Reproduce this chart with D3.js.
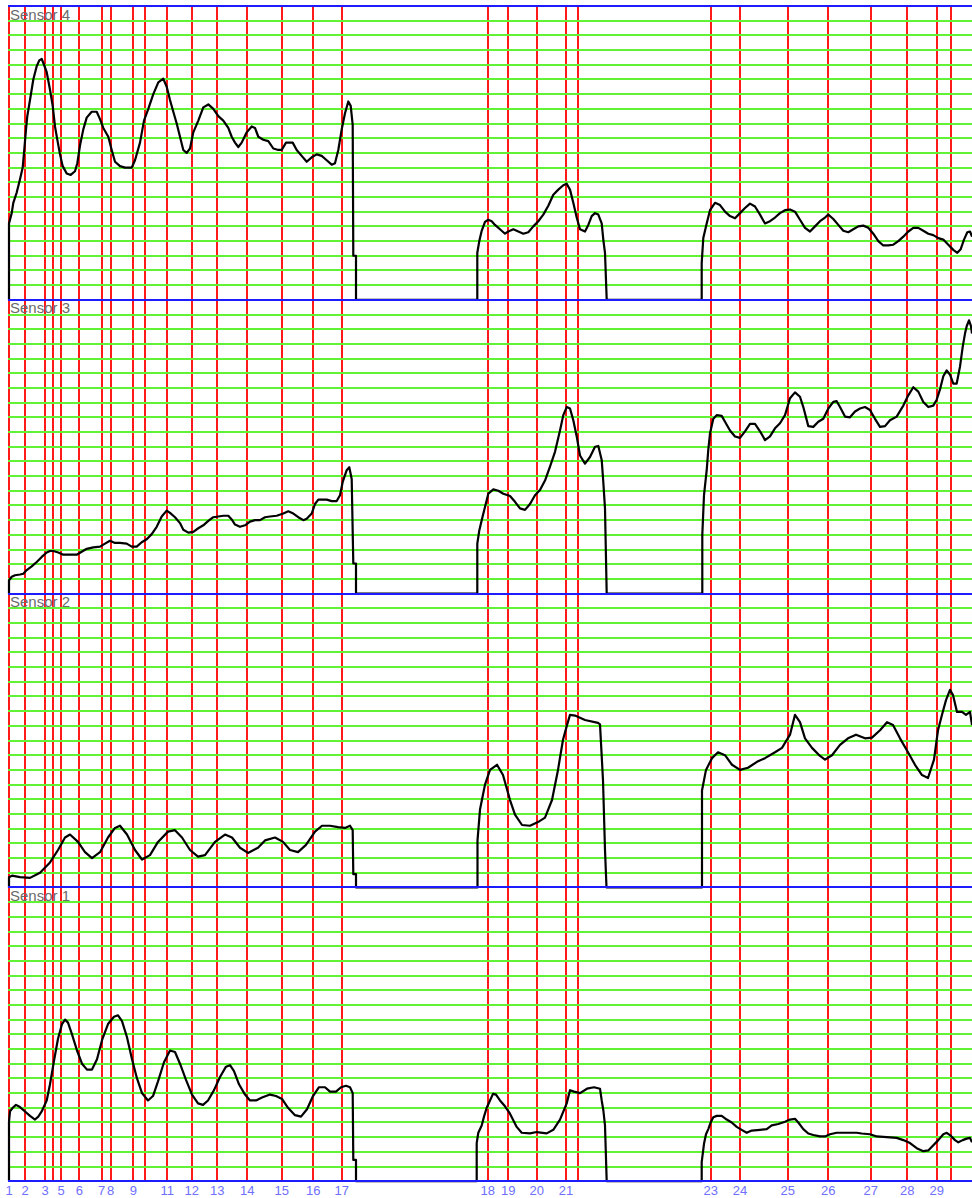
<!DOCTYPE html>
<html>
<head>
<meta charset="utf-8">
<title>Sensor traces</title>
<script src="https://cdn.jsdelivr.net/npm/d3@7"></script>
<style>
  html, body { margin: 0; padding: 0; background: #fff; }
  #chart { width: 972px; height: 1198px; }
  text { font-family: "Liberation Sans", Arial, sans-serif; }
</style>
</head>
<body>
<div id="chart"></div>
<script>
// Four stacked sensor traces, sample axis 0..964, each panel 0..20 grid units.

var SENSORS = ['Sensor 4', 'Sensor 3', 'Sensor 2', 'Sensor 1'];

// event markers (sample position) and their labels; blank = unlabeled
var MARKER_POS = [1, 17, 37, 45.3, 53, 71.3, 93.7, 102.7, 125.3, 137.3, 159.3, 183.7, 209.3, 239.3,
  273.7, 305.3, 333.7, 479.7, 500.3, 528.7, 558, 569.7, 702.7, 732, 779.7, 820.3, 862.7, 899.3,
  928.7, 942.7];
var MARKER_LABELS = ['1', '2', '3', '', '5', '6', '7', '8', '9', '', '11', '12', '13', '14',
  '15', '16', '17', '18', '19', '20', '21', '', '23', '24', '25', '26', '27', '28', '29', ''];

var SAMPLE_MAX = 964;
var LEVEL_MAX = 20;

var SENSOR_4 = [
  [1,0],[1,5.2],[3.7,5.9],[5.3,6.6],[8.7,7.3],[12,8.2],[14.7,9.0],[16,10],[18,11.6],[19.3,12.5],
  [22,13.6],[25.3,15],[28.7,15.9],[31.3,16.3],[33.7,16.4],[36,16],[38.7,15.5],[42,14.3],[44.7,13.2],
  [47,11.8],[49.3,10.9],[52,9.9],[54.7,9.1],[58.7,8.6],[62.7,8.5],[67,8.75],[69.3,9.3],[72,10.5],
  [75.3,11.6],[78.7,12.4],[83.7,12.8],[88.7,12.8],[92,12.3],[95.3,11.7],[100.3,11.1],[103.7,10.2],
  [107,9.4],[112,9.1],[117,9.0],[123.7,9.0],[127,9.5],[132,10.7],[136,12.2],[140.3,13],[145.3,14],
  [150.3,14.8],[155.3,15.05],[158.7,14.5],[162,13.6],[165.3,12.8],[168.7,12],[172,11.1],[175.3,10.2],
  [178.7,10],[182,10.3],[185.3,11.4],[190.3,12.2],[195.3,13.1],[200.3,13.3],[205.3,13],[210.3,12.5],
  [215.3,12.2],[220.3,11.7],[223.7,11.1],[227,10.7],[230.3,10.4],[233.7,10.7],[238.7,11.4],
  [243.7,11.8],[247,11.7],[250.3,11.1],[255.3,10.9],[260.3,10.8],[265.3,10.3],[270.3,10.2],
  [273.7,10.2],[278,10.7],[284.7,10.7],[288.7,10.2],[293.7,9.8],[298.7,9.4],[303.7,9.7],[308.7,9.9],
  [313.7,9.8],[318.7,9.5],[323.7,9.2],[327,9.3],[330.3,10.2],[333.7,11.6],[337,12.7],[340.3,13.5],
  [342.7,13.2],[344.7,11.9],[345.3,3.0],[348,3.0],[348,0],
  [469.3,0],[469.3,3.2],[471.3,4.0],[473.7,4.7],[477,5.3],[480.3,5.45],[483.7,5.35],[487,5.1],
  [492,4.8],[497,4.5],[500.3,4.65],[505.3,4.8],[510.3,4.65],[515.3,4.5],[520.3,4.6],[525.3,5.0],
  [530.3,5.35],[535.3,5.8],[540.3,6.4],[545.3,7.15],[550.3,7.5],[555.3,7.8],[558.7,7.9],[562,7.5],
  [565.3,6.6],[568.7,5.6],[572,4.8],[577,4.65],[580.3,5.1],[583.7,5.7],[587,5.9],[590.3,5.8],
  [593.7,5.2],[595.3,4.1],[597,3.2],[598.7,0],
  [693.7,0],[693.7,2.5],[695.3,4.2],[698.7,5.2],[702,6.1],[707,6.6],[712,6.45],[717,6.0],[722,5.7],
  [727,5.55],[732,5.9],[737,6.25],[742,6.55],[747,6.35],[752,5.8],[757,5.2],[762,5.35],[767,5.6],
  [772,5.9],[777,6.1],[782,6.15],[787,6.0],[792,5.45],[797,4.9],[802,4.65],[807,5.0],[812,5.35],
  [817,5.6],[820.3,5.8],[825.3,5.5],[830.3,5.1],[835.3,4.7],[840.3,4.6],[845.3,4.8],[850.3,5.0],
  [855.3,5.05],[860.3,4.9],[865.3,4.5],[870.3,4.0],[875.3,3.7],[880.3,3.7],[885.3,3.75],[890.3,4.0],
  [895.3,4.3],[900.3,4.65],[905.3,4.9],[910.3,4.9],[915.3,4.7],[920.3,4.5],[925.3,4.4],[930.3,4.2],
  [935.3,4.1],[940.3,3.75],[945.3,3.4],[949.3,3.2],[952.7,3.45],[956,4.1],[959.3,4.6],[962,4.65],
  [964,4.3]
];

var SENSOR_3 = [
  [1,0],[1,0.9],[3.7,1.15],[7,1.25],[12,1.3],[15.3,1.35],[18.7,1.6],[23.7,1.85],[28.7,2.15],
  [33.7,2.5],[38.7,2.8],[42,2.9],[45.3,2.9],[50.3,2.8],[55.3,2.65],[62,2.65],[68.7,2.65],[73.7,2.85],
  [78.7,3.05],[85.3,3.15],[92,3.2],[97,3.4],[102,3.6],[107,3.45],[112,3.45],[118.7,3.4],[123.7,3.2],
  [128.7,3.2],[133.7,3.5],[138.7,3.7],[143.7,4.05],[148.7,4.55],[153.7,5.25],[158.7,5.65],[162,5.5],
  [167,5.2],[172,4.8],[175.3,4.35],[180.3,4.15],[185.3,4.2],[190.3,4.45],[195.3,4.65],[200.3,4.95],
  [205.3,5.2],[210.3,5.25],[215.3,5.3],[220.3,5.3],[223.7,5.05],[227,4.7],[232,4.55],[237,4.65],
  [242,4.9],[247,5.0],[252,5.0],[257,5.2],[262,5.25],[268.7,5.3],[275.3,5.45],[280.3,5.6],
  [285.3,5.45],[290.3,5.2],[295.3,5.0],[298.7,5.1],[303.7,5.45],[307,6.1],[310.3,6.4],[313.7,6.4],
  [318.7,6.4],[323.7,6.3],[328.7,6.3],[332,6.7],[334.7,7.6],[338.7,8.4],[341.3,8.6],[343.7,7.8],
  [345.3,2.05],[348,2.05],[348,0],
  [469.3,0],[469.3,3.4],[471.3,4.3],[473.7,5.0],[477,5.9],[480.3,6.8],[485.3,7.1],[490.3,7.0],
  [495.3,6.8],[502,6.65],[507,6.25],[512,5.8],[517,5.7],[522,6.1],[527,6.7],[532,7.05],[537,7.7],
  [542,8.65],[547,9.65],[552,11.1],[555.3,12.15],[558.7,12.7],[562,12.6],[565.3,11.8],[568.7,10.7],
  [572,9.4],[577,8.85],[582,9.3],[587,10],[590.3,10.05],[593.7,9.1],[595.3,7.6],[597,5.8],[598.7,0],
  [694.3,0],[694.3,4.0],[696,6.7],[698.7,8.4],[700.3,9.8],[702,10.9],[705.3,11.9],[708.7,12.15],
  [713.7,12.1],[717,11.7],[722,11.1],[727,10.7],[732,10.6],[737,11.05],[742,11.55],[747,11.55],
  [752,11.05],[757,10.45],[762,10.7],[767,11.25],[772,11.6],[777,12.15],[782,13.3],[787,13.7],
  [792,13.4],[795.3,12.7],[800.3,11.4],[805.3,11.35],[810.3,11.7],[815.3,11.9],[820.3,12.6],
  [825.3,13.05],[828.7,13.1],[832,12.7],[837,12.05],[842,12.0],[847,12.4],[852,12.6],[857,12.7],
  [862,12.5],[867,11.9],[872,11.35],[877,11.4],[882,11.8],[888.7,12.05],[895.3,12.8],[900.3,13.5],
  [905.3,14.05],[910.3,13.75],[915.3,13.05],[920.3,12.7],[925.3,12.8],[928.7,13.2],[932,13.9],
  [935.3,14.8],[938.7,15.2],[942,14.9],[945.3,14.3],[948.7,14.3],[952,15.45],[954.7,16.8],[957,17.7],
  [958.7,18.2],[961,18.6],[963,18.2],[964,17.7]
];

var SENSOR_2 = [
  [1,0],[1,0.7],[4,0.8],[12,0.7],[22,0.65],[32,1.0],[42,1.7],[50,2.55],[57,3.4],[62,3.6],[70,3.1],
  [77,2.4],[84,2.0],[92,2.4],[100,3.4],[107,4.05],[112,4.2],[119,3.6],[127,2.55],[134,1.9],[142,2.2],
  [150,3.1],[160,3.8],[167,3.9],[174,3.4],[182,2.55],[190,2.1],[197,2.2],[207,3.1],[217,3.6],
  [224,3.4],[232,2.7],[240,2.35],[250,2.7],[257,3.2],[267,3.4],[275,3.1],[282,2.55],[290,2.4],
  [298,2.9],[307,3.8],[314,4.2],[322,4.2],[330,4.1],[337,4.05],[342,4.2],[344.7,3.9],[345.3,0.9],
  [348,0.9],[348,0],
  [469.5,0],[469.5,3.2],[472,5.3],[477,7.0],[482,8.0],[489,8.35],[495,7.65],[502,5.95],[507,4.95],
  [514,4.25],[522,4.2],[530,4.45],[537,4.75],[544,5.95],[550,8.0],[555,10.05],[559,11.05],[562,11.75],
  [567,11.7],[577,11.4],[590,11.2],[592,11.1],[595,7.3],[597,2.55],[598.5,0],
  [694,0],[694,6.6],[698,8.0],[704,8.8],[710,9.2],[717,9.0],[724,8.35],[732,8.0],[740,8.15],
  [749,8.55],[757,8.8],[767,9.2],[774,9.5],[782,10.4],[787,11.75],[792,11.25],[797,10.15],[804,9.5],
  [812,8.95],[817,8.7],[824,9.0],[832,9.7],[840,10.15],[848,10.4],[857,10.15],[864,10.2],[872,10.7],
  [879,11.25],[885,11.05],[892,10.15],[900,9.2],[907,8.35],[914,7.65],[920,7.45],[926,8.7],[930,10.7],
  [934,11.75],[938,12.75],[942,13.45],[945,13.1],[949,11.95],[954,11.95],[958,11.75],[962,11.95],
  [964,11.05]
];

var SENSOR_1 = [
  [1,0],[1,4.05],[2,4.75],[4.7,5.0],[8,5.2],[12,5.05],[17,4.75],[22,4.45],[27,4.2],[30.3,4.4],
  [33.7,4.75],[36,5.1],[38.7,5.5],[42,6.6],[46,8.2],[50,9.7],[54,10.7],[57,11.0],[60,10.8],[64,10.0],
  [69,8.9],[74,8.0],[79,7.6],[84,7.6],[89,8.3],[94,9.6],[100,10.7],[106,11.2],[110,11.3],[114,10.9],
  [119,9.8],[124,8.3],[129,7.0],[134,6.0],[140,5.5],[145,5.8],[150,6.8],[156,8.1],[162,8.9],[167,8.8],
  [172,8.0],[178,6.9],[184,5.9],[190,5.3],[195,5.2],[200,5.5],[206,6.2],[212,7.1],[218,7.8],[222,7.9],
  [226,7.5],[231,6.6],[237,5.9],[242,5.5],[248,5.5],[254,5.7],[262,5.9],[268,5.8],[274,5.6],[280,5.0],
  [287,4.5],[293,4.4],[299,4.9],[305,5.8],[311,6.4],[317,6.4],[322,6.1],[328,6.1],[333,6.4],[338,6.5],
  [342,6.4],[344.7,6.0],[345.3,1.45],[348,1.45],[348,0],
  [468.7,0],[468.7,2.6],[470.3,3.3],[473.7,3.8],[476,4.4],[478.7,5.0],[482,5.5],[485,5.95],[488,5.9],
  [492,5.5],[497,5.1],[502,4.6],[508.7,3.7],[513.7,3.3],[522,3.26],[528.7,3.35],[538.7,3.26],
  [545.3,3.5],[552,4.2],[558.7,5.3],[562,6.2],[566,6.1],[572,6.0],[579,6.3],[586,6.4],[592,6.3],
  [593.7,5.5],[595.3,4.85],[597,3.8],[598.7,0],
  [693.7,0],[693.7,1.3],[696,2.55],[698,3.2],[700.3,3.55],[702.7,4.0],[705.3,4.35],[708.7,4.45],
  [713.7,4.45],[718.7,4.2],[723.7,4.0],[728.7,3.7],[733.7,3.5],[738.7,3.3],[743.7,3.45],[752,3.5],
  [758.7,3.55],[763.7,3.8],[770.3,3.9],[777,4.05],[782,4.2],[787,4.25],[790.3,4.0],[795.3,3.55],
  [800.3,3.25],[805.3,3.15],[812,3.05],[817,3.05],[822,3.2],[828.7,3.3],[838.7,3.3],[848.7,3.3],
  [853.7,3.25],[862,3.2],[868.7,3.05],[878.7,3.0],[888.7,2.95],[895.3,2.8],[902,2.6],[908.7,2.25],
  [915.3,2.05],[920.3,2.1],[925.3,2.45],[930.3,2.8],[935.3,3.2],[938.7,3.3],[942.7,3.1],[947,2.8],
  [950.3,2.65],[954.7,2.8],[958.7,2.9],[962,2.95],[964,2.65]
];

var SERIES = [SENSOR_4, SENSOR_3, SENSOR_2, SENSOR_1];

var W = 972, H = 1198;
var plotLeft = 8, plotRight = 972, plotTop = 6, plotBottom = 1181.25;

var svg = d3.select('#chart').append('svg')
  .attr('width', W)
  .attr('height', H)
  .style('background', '#fff');

var x = d3.scaleLinear().domain([0, SAMPLE_MAX]).range([plotLeft, plotRight]);
var panel = d3.scaleBand().domain(SENSORS).range([plotTop, plotBottom]).padding(0);
var y = d3.scaleLinear().domain([0, LEVEL_MAX]).range([panel.bandwidth(), 0]);

// red event markers, full height
svg.append('g')
  .selectAll('line')
  .data(MARKER_POS)
  .join('line')
  .attr('x1', function (d) { return x(d); })
  .attr('x2', function (d) { return x(d); })
  .attr('y1', plotTop)
  .attr('y2', plotBottom)
  .attr('stroke', '#ff1a1a')
  .attr('stroke-width', 2)
  .attr('shape-rendering', 'crispEdges');

var panels = svg.selectAll('.panel')
  .data(SENSORS)
  .join('g')
  .attr('class', 'panel')
  .attr('transform', function (d) { return 'translate(0,' + panel(d) + ')'; });

// green level grid (inner levels only)
var levels = d3.range(1, LEVEL_MAX);
panels.selectAll('.level')
  .data(levels)
  .join('line')
  .attr('class', 'level')
  .attr('x1', plotLeft)
  .attr('x2', plotRight)
  .attr('y1', function (d) { return y(d); })
  .attr('y2', function (d) { return y(d); })
  .attr('stroke', '#62f235')
  .attr('stroke-width', 2)
  .attr('shape-rendering', 'crispEdges');

// blue panel separators
var seps = SENSORS.map(function (s) { return panel(s); }).concat([plotBottom]);
svg.append('g')
  .selectAll('line')
  .data(seps)
  .join('line')
  .attr('x1', plotLeft)
  .attr('x2', plotRight)
  .attr('y1', function (d) { return d; })
  .attr('y2', function (d) { return d; })
  .attr('stroke', '#1c1cff')
  .attr('stroke-width', 2)
  .attr('shape-rendering', 'crispEdges');

var line = d3.line()
  .x(function (d) { return x(d[0]); })
  .y(function (d) { return y(d[1]); });

panels.append('path')
  .attr('d', function (d, i) { return line(SERIES[i]); })
  .attr('fill', 'none')
  .attr('stroke', '#000')
  .attr('stroke-width', 2.2)
  .attr('stroke-linejoin', 'round');

panels.append('text')
  .attr('x', 10)
  .attr('y', 13.5)
  .attr('font-size', 15)
  .attr('fill', '#6a6a6a')
  .text(function (d) { return d; });

// marker numbers under the plot
svg.append('g')
  .selectAll('text')
  .data(MARKER_POS)
  .join('text')
  .attr('x', function (d) { return x(d); })
  .attr('y', 1195)
  .attr('text-anchor', 'middle')
  .attr('font-size', 13)
  .attr('fill', '#7070ff')
  .text(function (d, i) { return MARKER_LABELS[i]; });
</script>
</body>
</html>
